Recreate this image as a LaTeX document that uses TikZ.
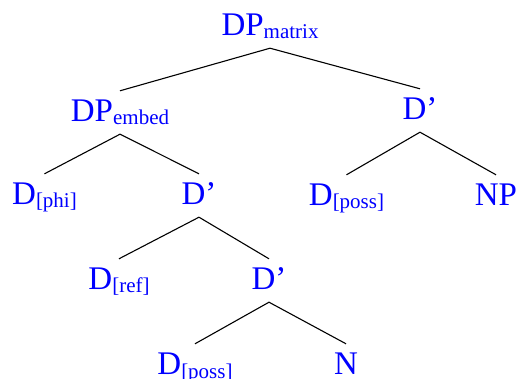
\documentclass[tikz,border=0pt]{standalone}
\usepackage{fontspec}
\setmainfont{Liberation Serif}
\newcommand{\lbl}[2]{#1{\fontsize{21}{21}\selectfont\raisebox{-3pt}{#2}}}
\begin{document}
\begin{tikzpicture}[x=1pt,y=1pt,
  cat/.style={anchor=base,text=blue,font=\fontsize{33}{36}\selectfont,
    text height=21pt,text depth=2pt,inner xsep=0pt,inner ysep=10pt},
  branch/.style={draw=black,line width=1.1pt}]
\useasboundingbox (0,0) rectangle (517,-379);
% labels, placed by their baseline
\node[cat] (dpm)   at (270,-36)   {\lbl{DP}{matrix}};
\node[cat] (dpe)   at (120,-122)  {\lbl{DP}{embed}};
\node[cat] (dbr)   at (420,-120)  {D'};
\node[cat] (dphi)  at (44.5,-205) {\lbl{D}{[phi]}};
\node[cat] (dbm)   at (199,-205)  {D'};
\node[cat] (dpa)   at (346.5,-206){\lbl{D}{[poss]}};
\node[cat] (np)    at (496,-206)  {NP};
\node[cat] (dref)  at (119,-290)  {\lbl{D}{[ref]}};
\node[cat] (dbl)   at (269,-290)  {D'};
\node[cat] (dpb)   at (195,-375)  {\lbl{D}{[poss]}};
\node[cat] (n)     at (346,-375)  {N};
% branches
\draw[branch] (dpm.south) -- (dpe.north);
\draw[branch] (dpm.south) -- (dbr.north);
\draw[branch] (dpe.south) -- (dphi.north);
\draw[branch] (dpe.south) -- (dbm.north);
\draw[branch] (dbr.south) -- (dpa.north);
\draw[branch] (dbr.south) -- (np.north);
\draw[branch] (dbm.south) -- (dref.north);
\draw[branch] (dbm.south) -- (dbl.north);
\draw[branch] (dbl.south) -- (dpb.north);
\draw[branch] (dbl.south) -- (n.north);
\end{tikzpicture}
\end{document}
